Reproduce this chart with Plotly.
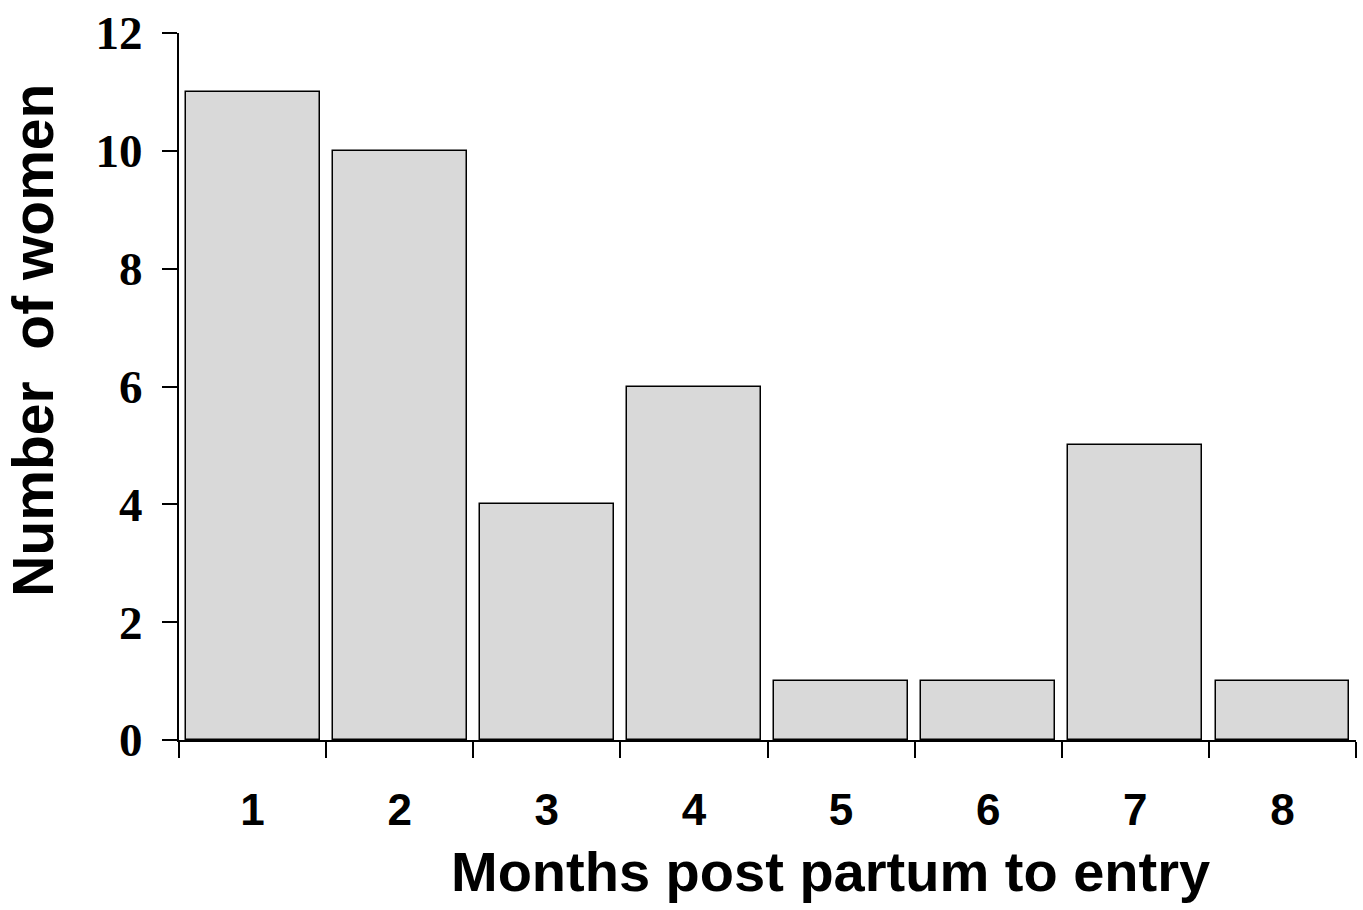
import plotly.graph_objects as go

months = [1, 2, 3, 4, 5, 6, 7, 8]
month_labels = ["1", "2", "3", "4", "5", "6", "7", "8"]
women = [11, 10, 4, 6, 1, 1, 5, 1]
boundaries = [0.5, 1.5, 2.5, 3.5, 4.5, 5.5, 6.5, 7.5, 8.5]
y_ticks = [0, 2, 4, 6, 8, 10, 12]

x_title = "Months post partum to entry"
y_title = "Number\u00a0 of women"

W, H = 1363, 910
L, R, T, B = 179, 7, 30, 170
pw, ph = W - L - R, H - T - B

fig = go.Figure()
fig.add_trace(go.Bar(
    x=months, y=women, width=0.91,
    marker=dict(color="#d9d9d9", line=dict(color="black", width=1.5)),
    showlegend=False,
))

sans = "Arial, Liberation Sans, sans-serif"
serif = "Times New Roman, Liberation Serif, serif"

fig.update_layout(
    width=W, height=H,
    margin=dict(l=L, r=R, t=T, b=B, pad=0),
    plot_bgcolor="white", paper_bgcolor="white",
    bargap=0,
    xaxis=dict(
        range=[0.5, 8.5], tickvals=months, ticktext=month_labels,
        ticks="outside", ticklen=0, tickcolor="rgba(0,0,0,0)",
        minor=dict(tickvals=boundaries, ticks="outside", ticklen=16,
                   tickwidth=2, tickcolor="black", showgrid=False),
        showline=True, linecolor="black", linewidth=2,
        showgrid=False, zeroline=False,
        tickfont=dict(family=sans, size=44, color="black", weight="bold"),
        ticklabelstandoff=30,
    ),
    yaxis=dict(
        range=[0, 12], tickvals=y_ticks,
        ticks="outside", ticklen=15, tickwidth=2, tickcolor="black",
        showline=True, linecolor="black", linewidth=2,
        showgrid=False, zeroline=False,
        tickfont=dict(family=serif, size=47, color="black", weight="bold"),
        ticklabelstandoff=10,
    ),
    annotations=[
        dict(text=x_title, xref="paper", yref="paper",
             x=(830 - L) / pw, y=(T + ph - 872) / ph,
             xanchor="center", yanchor="middle", showarrow=False,
             font=dict(family=sans, size=56, color="black", weight="bold")),
        dict(text=y_title, xref="paper", yref="paper",
             x=(33 - L) / pw, y=(T + ph - 339) / ph,
             xanchor="center", yanchor="middle", showarrow=False, textangle=-90,
             font=dict(family=sans, size=57, color="black", weight="bold")),
    ],
)

fig.write_html("out.html")
